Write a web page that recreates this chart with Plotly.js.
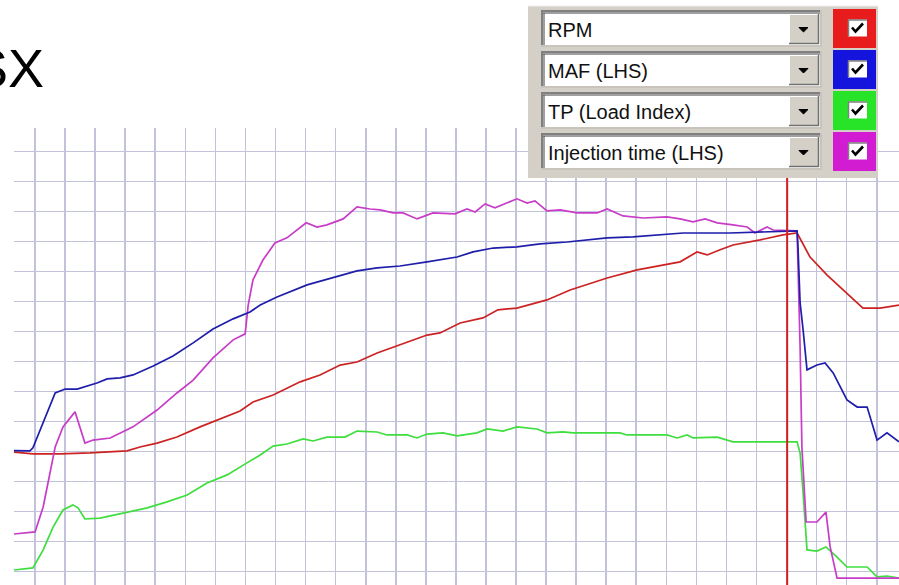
<!DOCTYPE html>
<html><head><meta charset="utf-8">
<script src="https://cdn.plot.ly/plotly-3.0.1.min.js"></script>
<style>html,body{margin:0;padding:0;background:#fff;}#chart{width:899px;height:585px;}</style>
</head><body><div id="chart"></div>
<script>
// ---- data (x: time in grid divisions, y: value in grid divisions) ----
const titleText = 'SX';
const seriesNames = ['RPM', 'MAF (LHS)', 'TP (Load Index)', 'Injection time (LHS)'];
const seriesColors = ['#cc2222', '#1e1eaa', '#3ede3e', '#c83cc8'];
const boxColors = ['#e81c1c', '#1414dc', '#28e428', '#d21cd2'];

const rpmX = [-0.70,-0.17,-0.07,0.83,1.83,3.06,3.49,4.06,4.72,5.49,6.15,6.82,7.25,7.92,8.82,9.48,10.15,10.71,11.38,12.14,13.04,13.47,14.14,14.90,15.40,16.03,17.03,17.80,19.03,20.03,20.69,21.46,22.02,22.36,22.79,23.22,24.12,24.88,25.35,25.78,26.35,27.01,27.54,28.11,28.74];
const rpmY = [3.98,3.95,3.92,3.92,3.95,4.02,4.15,4.28,4.48,4.82,5.08,5.35,5.65,5.88,6.32,6.55,6.88,6.98,7.28,7.55,7.88,7.95,8.28,8.45,8.72,8.78,9.05,9.38,9.78,10.05,10.18,10.32,10.65,10.55,10.72,10.88,11.05,11.22,11.28,10.48,9.88,9.28,8.78,8.78,8.88];

const mafX = [-0.70,-0.17,-0.07,0.67,1.00,1.40,2.06,2.40,2.83,3.26,3.93,4.59,5.26,5.92,6.59,7.15,7.49,8.05,9.05,10.05,10.71,11.38,12.14,13.04,14.04,14.57,15.24,16.03,16.80,17.70,18.46,19.03,19.89,20.79,21.56,23.12,25.35,25.38,25.45,25.55,25.68,26.01,26.28,26.55,27.01,27.35,27.68,28.01,28.34,28.74];
const mafY = [4.03,4.02,4.12,5.95,6.08,6.08,6.28,6.42,6.45,6.55,6.85,7.18,7.62,8.08,8.42,8.65,8.88,9.15,9.55,9.82,10.02,10.12,10.18,10.32,10.48,10.65,10.78,10.82,10.92,10.98,11.05,11.12,11.15,11.22,11.28,11.28,11.35,10.82,8.95,8.05,6.72,6.88,6.95,6.62,5.72,5.48,5.48,4.38,4.62,4.32];

const tpX = [-0.70,-0.07,0.27,0.60,0.93,1.26,1.43,1.66,2.16,2.83,3.73,4.39,5.06,5.72,6.39,7.05,7.49,7.92,8.38,8.92,9.25,9.71,10.31,10.71,11.38,11.71,12.38,12.71,13.04,13.57,14.04,14.70,15.04,15.57,16.03,16.70,17.03,17.56,17.90,19.46,19.69,21.02,21.36,21.69,21.89,22.69,23.22,25.35,25.45,25.55,25.68,26.01,26.31,26.68,27.01,27.68,28.01,28.34,28.74];
const tpY = [0.05,0.12,0.72,1.48,2.05,2.22,2.12,1.75,1.78,1.92,2.12,2.32,2.55,2.95,3.22,3.62,3.88,4.18,4.25,4.42,4.35,4.48,4.48,4.68,4.65,4.55,4.55,4.45,4.58,4.62,4.52,4.62,4.75,4.68,4.82,4.75,4.62,4.65,4.62,4.62,4.55,4.55,4.45,4.55,4.45,4.48,4.32,4.32,3.95,2.62,0.72,0.68,0.82,0.48,0.15,0.15,-0.18,-0.15,-0.22];

const injX = [-0.70,0,0.27,0.50,0.67,0.93,1.33,1.66,1.93,2.50,3.26,4.06,4.72,5.26,5.92,6.59,6.99,7.09,7.25,7.58,7.98,8.38,9.02,9.38,9.71,10.25,10.71,11.14,11.48,11.91,12.24,12.71,13.24,13.97,14.37,14.64,14.97,15.30,16.03,16.37,16.63,17.03,17.47,18.03,18.70,19.03,19.56,20.23,21.02,21.46,21.89,22.29,22.69,23.22,23.69,23.95,24.35,24.55,25.02,25.35,25.45,25.51,25.65,26.01,26.31,26.45,26.68,28.74];
const injY = [1.25,1.32,2.15,3.28,4.15,4.82,5.32,4.28,4.38,4.45,4.82,5.38,5.95,6.38,7.12,7.72,7.92,8.88,9.72,10.38,10.95,11.12,11.62,11.48,11.55,11.75,12.15,12.08,12.05,11.95,11.95,11.75,11.95,11.92,12.08,11.98,12.25,12.12,12.42,12.28,12.35,12.02,12.05,11.95,11.95,12.08,11.85,11.78,11.82,11.75,11.65,11.75,11.62,11.55,11.48,11.28,11.48,11.38,11.35,11.35,7.48,4.15,1.65,1.65,1.98,0.82,-0.22,-0.22];

const cursorX = 25.02;
const xRange = [-0.70, 28.74];
const yRange = [-0.45, 14.78];

// ---- traces ----
const seriesX = [rpmX, mafX, tpX, injX];
const seriesY = [rpmY, mafY, tpY, injY];
const drawOrder = [2, 0, 3, 1];
const traces = drawOrder.map(i => ({
  type: 'scatter', mode: 'lines', name: seriesNames[i],
  x: seriesX[i], y: seriesY[i],
  line: {color: seriesColors[i], width: 1.7},
  hoverinfo: 'skip'
}));

// ---- widget-style legend panel, drawn with shapes ----
const W = 899, H = 585;
const fx = x => x / W, fy = y => 1 - y / H;
const shapes = [];
const annotations = [];
shapes.push({type: 'line', xref: 'x', yref: 'y domain', x0: cursorX, x1: cursorX, y0: 0, y1: 1,
  line: {color: '#d42020', width: 2}, layer: 'above'});
function rect(x0, y0, x1, y1, fill) {
  shapes.push({type: 'rect', xref: 'paper', yref: 'paper', x0: fx(x0), x1: fx(x1), y0: fy(y1), y1: fy(y0),
    fillcolor: fill, line: {width: 0}, layer: 'above'});
}
function seg(x0, y0, x1, y1, c, w) {
  shapes.push({type: 'line', xref: 'paper', yref: 'paper', x0: fx(x0), x1: fx(x1), y0: fy(y0), y1: fy(y1),
    line: {color: c, width: w}, layer: 'above'});
}
function path(pts, fill, c, w, close) {
  let d = pts.map((p, k) => (k ? 'L' : 'M') + fx(p[0]).toFixed(5) + ',' + fy(p[1]).toFixed(5)).join(' ');
  if (close) d += ' Z';
  shapes.push({type: 'path', xref: 'paper', yref: 'paper', path: d, fillcolor: fill || 'rgba(0,0,0,0)',
    line: {color: c, width: w}, layer: 'above'});
}
rect(528, 6, 878, 178, '#d4d0c8');
seg(528, 6, 878, 6, '#eeeeee', 1);
seriesNames.forEach((name, i) => {
  const top = 10 + 41 * i, bot = top + 37, c = (top + bot) / 2;
  // combo box
  rect(541, top, 822, bot, '#ffffff');
  seg(541, top + 1, 822, top + 1, '#808080', 2);
  seg(542, top, 542, bot, '#808080', 2);
  seg(543, top + 3, 820, top + 3, '#404040', 1);
  seg(544, top + 3, 544, bot - 2, '#404040', 1);
  seg(541, bot - 1, 822, bot - 1, '#c8c4bc', 2);
  seg(821, top, 821, bot, '#c8c4bc', 2);
  // dropdown button
  rect(789, top + 4, 819, bot - 3, '#d4d0c8');
  seg(789, top + 4.5, 819, top + 4.5, '#ffffff', 1);
  seg(789.5, top + 4, 789.5, bot - 3, '#ffffff', 1);
  seg(789, bot - 3.5, 819, bot - 3.5, '#707070', 1.5);
  seg(818.5, top + 4, 818.5, bot - 3, '#707070', 1.5);
  path([[799, c - 1], [808, c - 1], [803.5, c + 3.5]], '#000000', '#000000', 1, true);
  // colour swatch with checkbox
  rect(833, top - 1, 876, bot + 1, boxColors[i]);
  rect(848, c - 9, 867, c + 8, '#ffffff');
  seg(848, c - 8.5, 867, c - 8.5, '#808080', 1.5);
  seg(848.5, c - 9, 848.5, c + 8, '#808080', 1.5);
  path([[852, c - 1], [855.5, c + 3], [863, c - 5]], null, '#000000', 2.6, false);
  annotations.push({xref: 'paper', yref: 'paper', x: fx(546), y: fy(c + 1.5), xanchor: 'left', yanchor: 'middle',
    text: name, showarrow: false, font: {family: 'Liberation Sans, Arial, sans-serif', size: 20, color: '#111111'}});
});
annotations.push({xref: 'paper', yref: 'paper', x: fx(46), y: fy(68), xanchor: 'right', yanchor: 'middle',
  text: titleText, showarrow: false, font: {family: 'Liberation Sans, Arial, sans-serif', size: 54, color: '#000000'}});

const gridStyle = {showgrid: true, gridcolor: '#c2c2da', gridwidth: 1.6, zeroline: false, showline: false,
  showticklabels: false, ticks: '', dtick: 1, tick0: 0, fixedrange: true};
const layout = {
  width: W, height: H, margin: {l: 0, r: 0, t: 0, b: 0},
  paper_bgcolor: '#ffffff', plot_bgcolor: '#ffffff', showlegend: false,
  xaxis: Object.assign({}, gridStyle, {range: xRange, domain: [14 / W, 1]}),
  yaxis: Object.assign({}, gridStyle, {range: yRange, domain: [0, (H - 128) / H]}),
  shapes: shapes, annotations: annotations
};
Plotly.newPlot('chart', traces, layout, {staticPlot: true, displayModeBar: false});
</script>
</body></html>
